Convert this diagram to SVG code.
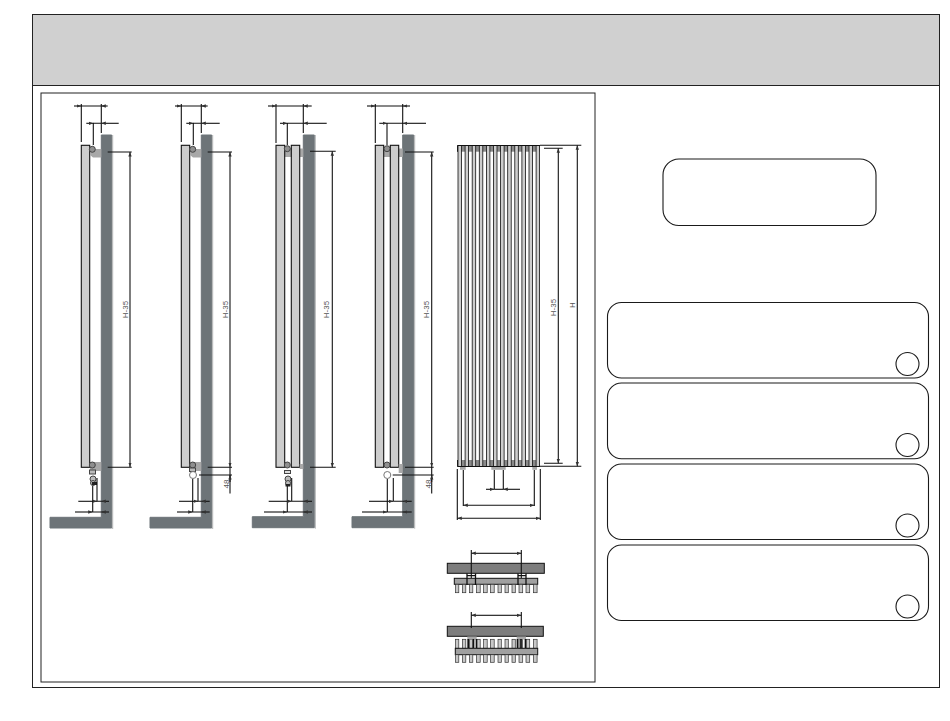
<svg xmlns="http://www.w3.org/2000/svg" width="950" height="721" viewBox="0 0 950 721">
<style>
.w{fill:#6d7478;stroke:#6d7478;stroke-width:1}
.r{fill:#cdcdcd;stroke:#111;stroke-width:1.100}
.b{fill:#a8a8a8;stroke:none}
.v{fill:#8f8f8f;stroke:#444;stroke-width:1}
.o{fill:#fff;stroke:#777;stroke-width:1}
.l{fill:none;stroke:#111;stroke-width:1.100}
.a{fill:none;stroke:#111;stroke-width:1.100;marker-end:url(#ar)}
.t{font-family:"Liberation Sans",Arial,sans-serif;font-size:8px;fill:#555;text-anchor:middle}
.box{fill:#fff;stroke:#1a1a1a;stroke-width:1.100}
.g{fill:#7d7d7d;stroke:#111;stroke-width:1}
.th{fill:#c8c8c8;stroke:#333;stroke-width:.7}
.edge{fill:none;stroke:#b0b2b3;stroke-width:1}
</style>
<defs>
<marker id="ar" markerWidth="6" markerHeight="6" refX="4.500" refY="2.500" orient="auto" markerUnits="userSpaceOnUse"><path d="M0 .8L4.500 2.500L0 4.200Z" fill="#333"/></marker>
</defs>
<rect width="950" height="721" fill="#fff"/>
<g id="frame">
<rect x="32.500" y="14.500" width="907" height="673" fill="#fff" stroke="#222"/>
<rect x="32.500" y="14.500" width="907" height="71" fill="#d0d0d0" stroke="#222"/>
<rect x="41" y="93" width="554" height="589" fill="#fff" stroke="#222"/>
</g>

<g id="side-1">
<path class="w" d="M101.300 135H111.700V528H50V517.300H101.300Z"/>
<path class="edge" d="M112.700 135V529"/>
<rect class="r" x="81.300" y="145.300" width="8.400" height="322"/>
<path class="b" d="M90 149H101.300V157.500H93L90 155Z"/>
<path class="b" d="M90 462H101.300V471H90Z"/>
<circle class="v" cx="92.300" cy="149.300" r="3"/>
<circle class="v" cx="92.300" cy="465" r="3"/>
<rect class="v" style="fill:#bbb" x="89.500" y="470" width="6" height="4"/>
<circle class="v" cx="93" cy="479" r="3" style="fill:#bbb"/>
<circle class="v" cx="93" cy="483" r="2.500" style="fill:#bbb"/>
<rect x="92" y="482" width="5" height="3" fill="#222"/>
</g>
<g id="side-2">
<path class="w" d="M201.300 135H211.700V528H150V517.300H201.300Z"/>
<path class="edge" d="M212.700 135V529"/>
<rect class="r" x="181.300" y="145.300" width="8.400" height="322"/>
<path class="b" d="M190 149H201.300V157.500H193L190 155Z"/>
<path class="b" d="M190 462H201.300V471H190Z"/>
<circle class="v" cx="192.700" cy="149.300" r="3"/>
<circle class="v" cx="192.700" cy="465" r="3"/>
<rect class="v" style="fill:#bbb" x="189.500" y="468" width="6" height="3.500"/>
<circle class="o" cx="193" cy="475" r="3.500"/>
</g>
<g id="side-3">
<path class="w" d="M303.300 135H314.300V527.700H252.300V516.700H303.300Z"/>
<path class="edge" d="M315.300 135V528.700"/>
<rect class="b" x="284" y="148" width="8" height="9"/>
<rect class="b" x="299.700" y="148.500" width="3.600" height="8.500"/>
<rect class="r" x="276" y="145.300" width="8.700" height="322"/>
<rect class="r" x="291.300" y="145.300" width="8.400" height="322"/>
<path class="b" d="M299.700 464H303.300V469H299.700Z"/>
<circle class="v" cx="287.300" cy="148.700" r="3"/>
<circle class="v" cx="287.300" cy="465" r="3"/>
<rect class="v" style="fill:#ddd" x="284.500" y="470.500" width="6" height="3"/>
<circle class="v" cx="288" cy="479" r="3" style="fill:#bbb"/>
<circle class="v" cx="288" cy="483" r="2.500" style="fill:#bbb"/>
<rect x="285.500" y="484" width="5" height="2.500" fill="#222"/>
</g>
<g id="side-4">
<path class="w" d="M402.700 135H413.700V527.700H352V516.700H402.700Z"/>
<path class="edge" d="M414.700 135V528.700"/>
<rect class="b" x="383.500" y="148" width="7" height="9"/>
<rect class="b" x="398.700" y="148.500" width="4" height="8.500"/>
<rect class="r" x="375.300" y="145.300" width="8.400" height="322"/>
<rect class="r" x="390.300" y="145.300" width="8.400" height="322"/>
<path class="b" d="M398.700 464H402.700V473H398.700Z"/>
<circle class="v" cx="387" cy="148.700" r="3"/>
<circle class="v" cx="387" cy="465" r="3"/>
<circle class="o" cx="387.300" cy="475" r="3.500"/>
</g>

<g id="front-view">
<rect x="457" y="145.300" width="83" height="6.400" fill="#8a8a8a"/>
<rect x="457" y="460" width="83" height="6.700" fill="#8a8a8a"/>
<rect x="457" y="145.300" width="1.500" height="6.400" fill="#222"/>
<rect x="457" y="460" width="1.500" height="6.700" fill="#222"/>
<g fill="#cdcdcd" stroke="#111" stroke-width=".8">
<rect x="458" y="145.500" width="3.500" height="321"/><rect x="465.100" y="145.500" width="3.500" height="321"/><rect x="472.200" y="145.500" width="3.500" height="321"/><rect x="479.300" y="145.500" width="3.500" height="321"/><rect x="486.400" y="145.500" width="3.500" height="321"/><rect x="493.500" y="145.500" width="3.500" height="321"/><rect x="500.600" y="145.500" width="3.500" height="321"/><rect x="507.700" y="145.500" width="3.500" height="321"/><rect x="514.800" y="145.500" width="3.500" height="321"/><rect x="521.900" y="145.500" width="3.500" height="321"/><rect x="529" y="145.500" width="3.500" height="321"/><rect x="536.100" y="145.500" width="3.500" height="321"/>
</g>
<path d="M458 145.500H540M458 466.500H540" class="l"/>
<rect class="b" x="460" y="467" width="5.700" height="2.800"/>
<rect class="b" x="491.300" y="467" width="14.400" height="2.800"/>
<rect class="b" x="532.300" y="467" width="4.700" height="2.800"/>
</g>

<g id="plan-1">
<rect class="g" x="447.300" y="563.300" width="97" height="10"/>
<rect class="g" style="fill:#a0a0a0" x="454.300" y="578.300" width="83.400" height="6"/>
<g class="th"><rect x="455.500" y="584.300" width="3.300" height="8.400"/><rect x="462.500" y="584.300" width="3.300" height="8.400"/><rect x="469.500" y="584.300" width="3.300" height="8.400"/><rect x="476.500" y="584.300" width="3.700" height="8.400"/><rect x="483.500" y="584.300" width="3.700" height="8.400"/><rect x="490.500" y="584.300" width="3.700" height="8.400"/><rect x="498" y="584.300" width="3.300" height="8.400"/><rect x="505" y="584.300" width="3.300" height="8.400"/><rect x="512" y="584.300" width="3.300" height="8.400"/><rect x="519" y="584.300" width="3.700" height="8.400"/><rect x="526" y="584.300" width="3.700" height="8.400"/><rect x="533.400" y="584.300" width="3.700" height="8.400"/></g>
<path d="M467 573.500V585M475.500 573.500V585M467 575.700H475.500M518 573.500V585M526 573.500V585M518 575.700H526" fill="none" stroke="#111" stroke-width="1.300"/>
</g>
<g id="plan-2">
<rect class="g" x="447.300" y="626.300" width="96" height="10"/>
<g class="th"><rect x="455.500" y="639.300" width="3.300" height="9"/><rect x="462.500" y="639.300" width="3.300" height="9"/><rect x="469.500" y="639.300" width="3.300" height="9"/><rect x="476.500" y="639.300" width="3.700" height="9"/><rect x="483.500" y="639.300" width="3.700" height="9"/><rect x="490.500" y="639.300" width="3.700" height="9"/><rect x="498" y="639.300" width="3.300" height="9"/><rect x="505" y="639.300" width="3.300" height="9"/><rect x="512" y="639.300" width="3.300" height="9"/><rect x="519" y="639.300" width="3.700" height="9"/><rect x="526" y="639.300" width="3.700" height="9"/><rect x="533.400" y="639.300" width="3.700" height="9"/></g>
<rect class="b" x="467.300" y="636.500" width="9.400" height="3"/>
<rect class="b" x="516.700" y="636.500" width="9.300" height="3"/>
<path d="M468.200 639V648M473.500 639V648M476.500 639V648M517.500 639V648M521 639V648M525.500 639V648" fill="none" stroke="#111" stroke-width="1.700"/>
<rect class="g" style="fill:#a0a0a0" x="455.300" y="648.300" width="82.400" height="6.400"/>
<g class="th"><rect x="455.500" y="654.700" width="3.300" height="7.600"/><rect x="462.500" y="654.700" width="3.300" height="7.600"/><rect x="469.500" y="654.700" width="3.300" height="7.600"/><rect x="476.500" y="654.700" width="3.700" height="7.600"/><rect x="483.500" y="654.700" width="3.700" height="7.600"/><rect x="490.500" y="654.700" width="3.700" height="7.600"/><rect x="498" y="654.700" width="3.300" height="7.600"/><rect x="505" y="654.700" width="3.300" height="7.600"/><rect x="512" y="654.700" width="3.300" height="7.600"/><rect x="519" y="654.700" width="3.700" height="7.600"/><rect x="526" y="654.700" width="3.700" height="7.600"/><rect x="533.400" y="654.700" width="3.700" height="7.600"/></g>
</g>

<g id="connectors">
<path class="l" d="M81.300 104V142M101.300 104V133M93.300 123V145M81 106H101.500M93 123.300H101.500M107.700 152H131.700M107.700 467.300H131.700"/>
<path class="a" d="M74 106H81.300"/><path class="a" d="M107.700 106H101.300"/><path class="a" d="M86.300 123.300H93.300"/><path class="a" d="M118.700 123.300H101.300"/>
<path class="a" d="M130 300V152"/><path class="a" d="M130 300V467"/>
<path class="l" d="M92.700 486V512M97 478V501.300"/>
<path class="a" d="M78.300 501.300H97"/><path class="a" d="M109 501.300H101.300"/><path class="a" d="M75 512H92.700"/><path class="a" d="M109 512H101.300"/>
<path class="l" d="M97 501.300H101.300M92.700 512H101.300"/>
<path class="l" d="M181.300 104V142M201.300 104V133M193.300 123V145M181 106H201.500M193 123.300H201.500M207.700 152H232M207.700 467.300H232M199 475H232M230 467V493.500"/>
<path class="a" d="M175 106H181.300"/><path class="a" d="M207.700 106H201.300"/><path class="a" d="M186.300 123.300H193.300"/><path class="a" d="M219.700 123.300H201.300"/>
<path class="a" d="M230 300V152"/><path class="a" d="M230 300V467"/><path class="a" d="M230 482V475"/>
<path class="l" d="M192.700 479V512M198 478V501.300M198 501.300H201.300M192.700 512H201.300"/>
<path class="a" d="M179 501.300H198"/><path class="a" d="M209.700 501.300H201.300"/><path class="a" d="M177 512H192.700"/><path class="a" d="M209.700 512H201.300"/>
<path class="l" d="M276 104V143M303.300 104V133M287.300 123V145M276 106H303.300M287.300 123.300H303.300M310 151.300H335.700M310 467.300H335.700"/>
<path class="a" d="M268 106H276"/><path class="a" d="M311.700 106H303.300"/><path class="a" d="M280 123.300H287.300"/><path class="a" d="M326.700 123.300H303.300"/>
<path class="a" d="M332.300 300V151.300"/><path class="a" d="M332.300 300V467.300"/>
<path class="l" d="M287.300 486V512M291.700 478V501.300M291.700 501.300H303.300M287.300 512H303.300"/>
<path class="a" d="M268.700 501.300H291.700"/><path class="a" d="M312 501.300H303.300"/><path class="a" d="M264 512H287.300"/><path class="a" d="M312 512H303.300"/>
<path class="l" d="M375.300 104V143M402.700 104V133M387 123V145M375.300 106H402.700M387 123.300H402.700M405 152H433.700M405 467.300H433.700M392.700 475H433.700M431.700 467V493.500"/>
<path class="a" d="M367 106H375.300"/><path class="a" d="M410 106H402.700"/><path class="a" d="M379.300 123.300H387"/><path class="a" d="M426 123.300H402.700"/>
<path class="a" d="M431.700 300V152"/><path class="a" d="M431.700 300V467"/><path class="a" d="M431.700 482V475"/>
<path class="l" d="M387.300 479V512M393.300 478V501.300M393.300 501.300H402.700M387.300 512H402.700"/>
<path class="a" d="M369 501.300H393.300"/><path class="a" d="M411.700 501.300H402.700"/><path class="a" d="M362 512H387.300"/><path class="a" d="M411.700 512H402.700"/>
<path class="l" d="M540 145.300H581.300M544 148.300H562.700M544 463.300H562.700M540 466.300H581.300"/>
<path class="a" d="M558.300 300V148.300"/><path class="a" d="M558.300 300V463.300"/><path class="a" d="M577.300 300V145.300"/><path class="a" d="M577.300 300V466.300"/>
<path class="l" d="M463.300 470V506M534.300 470V506M457.300 469V520M540.300 469V520M494.300 470V489.300M503.300 470V489.300"/>
<path class="a" d="M500 505.300H463.300"/><path class="a" d="M500 505.300H534.300"/>
<path class="a" d="M500 518.300H457.300"/><path class="a" d="M500 518.300H540.300"/>
<path class="a" d="M486 489.300H494.300"/><path class="a" d="M520 489.300H503.300"/><path class="l" d="M494.300 489.300H503.300"/>
<path class="l" d="M471.300 550V578M521.300 550V578M471.300 612V628M521.300 612V628"/>
<path class="a" d="M496 553.300H471.300"/><path class="a" d="M496 553.300H521.300"/>
<path class="a" d="M496 615.300H471.300"/><path class="a" d="M496 615.300H521.300"/>
</g>

<g id="dimension-labels">
<text class="t" transform="translate(127.500,309.500) rotate(-90)">H-35</text>
<text class="t" transform="translate(227.500,309.500) rotate(-90)">H-35</text>
<text class="t" transform="translate(228.500,484) rotate(-90)">48</text>
<text class="t" transform="translate(328.500,309.500) rotate(-90)">H-35</text>
<text class="t" transform="translate(429,309.500) rotate(-90)">H-35</text>
<text class="t" transform="translate(430.500,484) rotate(-90)">48</text>
<text class="t" transform="translate(556,307.500) rotate(-90)">H-35</text>
<text class="t" transform="translate(575,305) rotate(-90)">H</text>
</g>

<g id="box-top"><rect class="box" x="663" y="159" width="213" height="66.500" rx="16"/></g>
<g id="box-1"><rect class="box" x="607.500" y="302.500" width="321" height="75.500" rx="14"/><circle class="box" cx="907.500" cy="364" r="11.500"/></g>
<g id="box-2"><rect class="box" x="607.500" y="383" width="321" height="75.700" rx="14"/><circle class="box" cx="907.500" cy="445" r="11.500"/></g>
<g id="box-3"><rect class="box" x="607.500" y="464" width="321" height="75.500" rx="14"/><circle class="box" cx="907.500" cy="525.500" r="11.500"/></g>
<g id="box-4"><rect class="box" x="607.500" y="545" width="321" height="75.500" rx="14"/><circle class="box" cx="907.500" cy="606.500" r="11.500"/></g>
</svg>
